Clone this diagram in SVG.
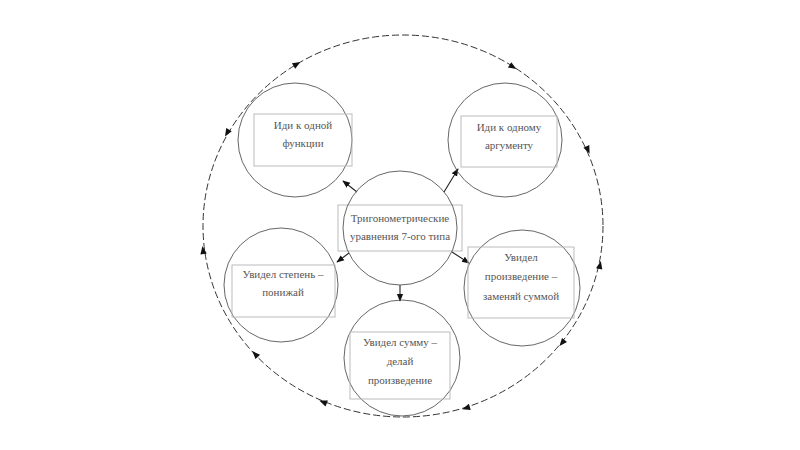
<svg xmlns="http://www.w3.org/2000/svg" width="800" height="450" viewBox="0 0 800 450">
<style>
.c{fill:none;stroke:#555;stroke-width:0.9}
.r{fill:none;stroke:#bbb;stroke-width:1}
.t{font-family:"Liberation Serif","DejaVu Serif",serif;font-size:11px;fill:#555;text-anchor:middle}
.e{stroke:#222;stroke-width:1.1;fill:none}
.ring{fill:none;stroke:#333;stroke-width:1;stroke-dasharray:7,3}
</style>
<defs>
<marker id="m" viewBox="0 0 10 10" refX="9" refY="5" markerWidth="7" markerHeight="7" orient="auto">
<path d="M0,1 L10,5 L0,9 Z" fill="#111"/>
</marker>
<path id="ah" d="M4,0 L-4,-3.2 L-4,3.2 Z" fill="#111"/>
</defs>
<rect width="800" height="450" fill="#fff"/>
<g id="ring">
<ellipse class="ring" cx="403" cy="226" rx="200" ry="191"/>
<use href="#ah" transform="translate(297,64) rotate(-31)"/>
<use href="#ah" transform="translate(513,67) rotate(32)"/>
<use href="#ah" transform="translate(588,150) rotate(66)"/>
<use href="#ah" transform="translate(600,265) rotate(-78)"/>
<use href="#ah" transform="translate(562,343) rotate(129)"/>
<use href="#ah" transform="translate(466,408) rotate(163)"/>
<use href="#ah" transform="translate(323,402) rotate(202)"/>
<use href="#ah" transform="translate(255,354) rotate(226)"/>
<use href="#ah" transform="translate(203,250) rotate(262)"/>
<use href="#ah" transform="translate(227,133) rotate(120)"/>
</g>
<g id="connectors">
<line class="e" x1="357" y1="192" x2="343" y2="181" marker-end="url(#m)"/>
<line class="e" x1="444" y1="192" x2="458" y2="169" marker-end="url(#m)"/>
<line class="e" x1="349" y1="253" x2="337" y2="262" marker-end="url(#m)"/>
<line class="e" x1="452" y1="252" x2="469" y2="263" marker-end="url(#m)"/>
<line class="e" x1="400" y1="285" x2="400" y2="301" marker-end="url(#m)"/>
</g>
<g id="center">
<rect class="r" x="338" y="205" width="124" height="46"/>
<circle class="c" cx="400" cy="228" r="57"/>
<text class="t" x="400" y="222">Тригонометрические</text>
<text class="t" x="400" y="240">уравнения 7-ого типа</text>
</g>
<g id="n1">
<circle class="c" cx="295" cy="140" r="57"/>
<rect class="r" x="254" y="114" width="98" height="52"/>
<text class="t" x="303" y="129">Иди к одной</text>
<text class="t" x="303" y="147">функции</text>
</g>
<g id="n2">
<circle class="c" cx="505" cy="140" r="57"/>
<rect class="r" x="461" y="116" width="96" height="51"/>
<text class="t" x="509" y="131">Иди к одному</text>
<text class="t" x="509" y="149">аргументу</text>
</g>
<g id="n3">
<circle class="c" cx="281" cy="285" r="57"/>
<rect class="r" x="232" y="265" width="103" height="52"/>
<text class="t" x="283" y="278">Увидел степень –</text>
<text class="t" x="283" y="296">понижай</text>
</g>
<g id="n4">
<circle class="c" cx="522" cy="288" r="58"/>
<rect class="r" x="468" y="247" width="106" height="71"/>
<text class="t" x="521" y="261">Увидел</text>
<text class="t" x="521" y="280">произведение –</text>
<text class="t" x="521" y="300">заменяй суммой</text>
</g>
<g id="n5">
<circle class="c" cx="402" cy="358" r="58"/>
<rect class="r" x="350" y="332" width="100" height="67"/>
<text class="t" x="400" y="346">Увидел сумму –</text>
<text class="t" x="400" y="365">делай</text>
<text class="t" x="400" y="384">произведение</text>
</g>
</svg>
